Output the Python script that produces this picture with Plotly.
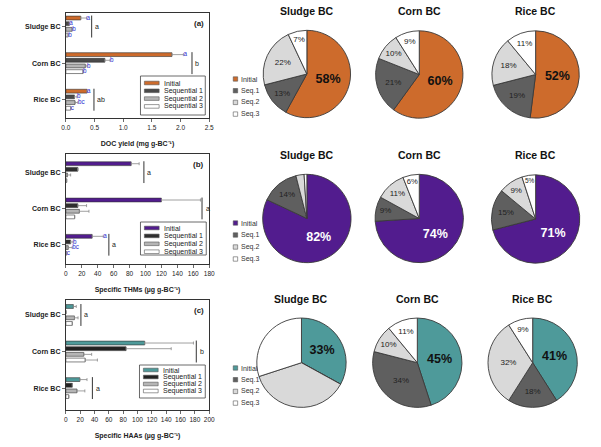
import plotly.graph_objects as go

W, H = 601, 447
FONT = "Liberation Sans, Arial, sans-serif"

# ---------------- data ----------------
categories = ["Sludge BC", "Corn BC", "Rice BC"]
series = ["Initial", "Sequential 1", "Sequential 2", "Sequential 3"]
pie_labels = ["Initial", "Seq.1", "Seq.2", "Seq.3"]

# (a) DOC yield (mg g-BC-1)
doc_initial = [0.26, 1.85, 0.37]
doc_seq1 = [0.06, 0.68, 0.15]
doc_seq2 = [0.11, 0.34, 0.16]
doc_seq3 = [0.04, 0.30, 0.085]
doc_err_initial = [0.10, 0.20, 0.0]
doc_err_seq1 = [0.0, 0.09, 0.045]
doc_err_seq2 = [0.0, 0.03, 0.05]
doc_err_seq3 = [0.0, 0.0, 0.0]
doc_letters_initial = ["a", "a", "a"]
doc_letters_seq1 = ["a", "b", "b"]
doc_letters_seq2 = ["b", "b", "bc"]
doc_letters_seq3 = ["b", "b", "c"]
doc_group_letters = ["a", "b", "ab"]
doc_group_x = [0.45, 2.20, 0.49]

# (b) Specific THMs (ug g-BC-1)
thm_initial = [82, 120, 33]
thm_seq1 = [15, 15, 6]
thm_seq2 = [2, 17, 3]
thm_seq3 = [1, 11, 1]
thm_err_initial = [10, 49, 14]
thm_err_seq1 = [0, 11, 3]
thm_err_seq2 = [4, 12, 5]
thm_err_seq3 = [0, 0, 0]
thm_letters_initial = ["", "", "a"]
thm_letters_seq1 = ["", "", "b"]
thm_letters_seq2 = ["", "", "bc"]
thm_letters_seq3 = ["", "", "c"]
thm_group_letters = ["a", "a", "a"]
thm_group_x = [98, 171, 54]

# (c) Specific HAAs (ug g-BC-1)
haa_initial = [10.5, 110, 19.5]
haa_seq1 = [0, 84, 9]
haa_seq2 = [12, 25, 15.5]
haa_seq3 = [9, 27, 4]
haa_err_initial = [4, 68, 10]
haa_err_seq1 = [0, 63, 0]
haa_err_seq2 = [5, 11, 11]
haa_err_seq3 = [0, 17, 0]
haa_group_letters = ["a", "b", "a"]
haa_group_x = [21, 182, 37]

# pie percentages [Initial, Seq.1, Seq.2, Seq.3]
doc_pct_sludge = [58, 13, 22, 7]
doc_pct_corn = [60, 21, 10, 9]
doc_pct_rice = [52, 19, 18, 11]
thm_pct_sludge = [82, 14, 3, 1]
thm_pct_corn = [74, 9, 11, 6]
thm_pct_rice = [71, 15, 9, 5]
haa_pct_sludge = [33, 0, 37, 30]
haa_pct_corn = [45, 34, 10, 11]
haa_pct_rice = [41, 18, 32, 9]
# which pie slices carry a label
thm_show_sludge = [True, True, False, False]
haa_show_sludge = [True, False, False, False]

# ---------------- styles ----------------
C_DOC = "#CD6B2C"
C_THM = "#521C8E"
C_HAA = "#4E9A9A"
BLUE = "#2B2BD0"

def px(x):
    return x / W

def py(y):
    return 1 - y / H

fig = go.Figure()
shapes = []
annotations = []

panels = [
    dict(key="", xr=[0, 2.5], dtick=0.5, fmt=".1f", box=(62, 13, 208, 118),
         yr=[2.5, -0.37], title="DOC yield (mg g-BC⁻¹)", tag="(a)",
         colors=[C_DOC, "#4A4A4A", "#B5B5B5", "#FFFFFF"],
         vals=[doc_initial, doc_seq1, doc_seq2, doc_seq3],
         errs=[doc_err_initial, doc_err_seq1, doc_err_seq2, doc_err_seq3],
         letters=[doc_letters_initial, doc_letters_seq1, doc_letters_seq2, doc_letters_seq3],
         glet=doc_group_letters, gx=doc_group_x,
         leg=(138, 76, 204, 115, 83, 7.8)),
    dict(key="2", xr=[0, 180], dtick=20, fmt="d", box=(62, 154, 208, 264),
         yr=[2.53, -0.5], title="Specific THMs (µg g-BC⁻¹)", tag="(b)",
         colors=[C_THM, "#2E2E2E", "#B5B5B5", "#FFFFFF"],
         vals=[thm_initial, thm_seq1, thm_seq2, thm_seq3],
         errs=[thm_err_initial, thm_err_seq1, thm_err_seq2, thm_err_seq3],
         letters=[thm_letters_initial, thm_letters_seq1, thm_letters_seq2, thm_letters_seq3],
         glet=thm_group_letters, gx=thm_group_x,
         leg=(138, 222, 205, 255, 228, 7.9)),
    dict(key="3", xr=[0, 200], dtick=20, fmt="d", box=(62, 300, 208, 410),
         yr=[2.6, -0.41], title="Specific HAAs (µg g-BC⁻¹)", tag="(c)",
         colors=[C_HAA, "#222222", "#B5B5B5", "#FFFFFF"],
         vals=[haa_initial, haa_seq1, haa_seq2, haa_seq3],
         errs=[haa_err_initial, haa_err_seq1, haa_err_seq2, haa_err_seq3],
         letters=None,
         glet=haa_group_letters, gx=haa_group_x,
         leg=(137, 365, 204, 398, 370, 7.0)),
]

OFF = 0.155
BW = 0.105
layout_axes = {}
for p in panels:
    k = p["key"]
    xa, ya = "x" + k, "y" + k
    x0, y0, x1, y1 = p["box"]
    for j, s in enumerate(series):
        ys = [i + (j - 1.5) * OFF for i in range(len(categories))]
        fig.add_trace(go.Bar(
            x=p["vals"][j], y=ys, orientation="h", width=BW, name=s,
            marker=dict(color=p["colors"][j], line=dict(color="#333333", width=0.6)),
            error_x=dict(type="data", array=p["errs"][j], symmetric=False,
                         arrayminus=[0] * len(categories), color="#888888",
                         thickness=0.8, width=1.5),
            xaxis=xa, yaxis=ya, showlegend=False, hoverinfo="skip"))
        if p["letters"] is not None:
            pts = [(v + e, yv, t) for v, e, yv, t in
                   zip(p["vals"][j], p["errs"][j], ys, p["letters"][j]) if t]
            if pts:
                fig.add_trace(go.Scatter(
                    x=[q[0] for q in pts], y=[q[1] for q in pts], mode="text",
                    text=[q[2] for q in pts], textposition="middle right",
                    textfont=dict(color=BLUE, size=6.3, family=FONT),
                    xaxis=xa, yaxis=ya, showlegend=False, hoverinfo="skip"))
    # group brackets
    for i, (gl, gx) in enumerate(zip(p["glet"], p["gx"])):
        shapes.append(dict(type="line", xref=xa, yref=ya, x0=gx, x1=gx,
                           y0=i - 0.3, y1=i + 0.3, line=dict(color="#333333", width=1)))
        annotations.append(dict(xref=xa, yref=ya, x=gx, y=i, text=gl, showarrow=False,
                                xanchor="left", xshift=1.5,
                                font=dict(size=7, color="#222222", family=FONT)))
    # panel tag
    annotations.append(dict(xref="paper", yref="paper", x=px(x1 - 3), y=py(y0 + 4),
                            xanchor="right", yanchor="top", text="<b>%s</b>" % p["tag"],
                            showarrow=False, font=dict(size=8, color="#222222", family=FONT)))
    # compact legend, as in the original figure
    lx0, ly0, lx1, ly1, ey, dy = p["leg"]
    shapes.append(dict(type="rect", xref="paper", yref="paper",
                       x0=px(lx0), x1=px(lx1), y0=py(ly1), y1=py(ly0),
                       line=dict(color="#444444", width=0.8), fillcolor="white"))
    for j, s in enumerate(series):
        yy = ey + j * dy
        shapes.append(dict(type="rect", xref="paper", yref="paper",
                           x0=px(lx0 + 4), x1=px(lx0 + 19), y0=py(yy + 1.8), y1=py(yy - 1.8),
                           line=dict(color="#555555", width=0.6), fillcolor=p["colors"][j]))
        annotations.append(dict(xref="paper", yref="paper", x=px(lx0 + 22), y=py(yy),
                                xanchor="left", yanchor="middle", text=s, showarrow=False,
                                font=dict(size=7, color="#222222", family=FONT)))
    layout_axes["xaxis" + k] = dict(
        domain=[px(x0), px(x1)], range=p["xr"], dtick=p["dtick"], tickformat=p["fmt"],
        anchor=ya, ticks="outside", ticklen=3, tickwidth=0.8, showline=True, mirror=True,
        linecolor="#333333", linewidth=1, showgrid=False, zeroline=False,
        tickfont=dict(size=6.5, color="#222222", family=FONT),
        title=dict(text="<b>%s</b>" % p["title"], standoff=11,
                   font=dict(size=7, color="#222222", family=FONT)))
    layout_axes["yaxis" + k] = dict(
        domain=[py(y1), py(y0)], range=p["yr"], anchor=xa,
        tickvals=list(range(len(categories))),
        ticktext=["<b>%s</b>" % c for c in categories],
        ticks="outside", ticklen=3, tickwidth=0.8, showline=True, mirror=True,
        linecolor="#333333", linewidth=1, showgrid=False, zeroline=False,
        tickfont=dict(size=7, color="#222222", family=FONT))

# ---------------- pies ----------------
pie_rows = [
    dict(pcts=[doc_pct_sludge, doc_pct_corn, doc_pct_rice],
         shows=[[True] * 4, [True] * 4, [True] * 4],
         init_color=C_DOC, init_text="#111111",
         centers=[(307.5, 74), (422, 74.5), (540.5, 74.5)], r=44.5, title_y=11,
         leg_y=79, leg_dy=11.7),
    dict(pcts=[thm_pct_sludge, thm_pct_corn, thm_pct_rice],
         shows=[thm_show_sludge, [True] * 4, [True] * 4],
         init_color=C_THM, init_text="#FFFFFF",
         centers=[(307.5, 218.5), (422, 218.5), (540.5, 219)], r=45, title_y=155,
         leg_y=223, leg_dy=12),
    dict(pcts=[haa_pct_sludge, haa_pct_corn, haa_pct_rice],
         shows=[haa_show_sludge, [True] * 4, [True] * 4],
         init_color=C_HAA, init_text="#111111",
         centers=[(302, 362.7), (420, 362.7), (537.5, 362.7)], r=45.5, title_y=298.5,
         leg_y=368, leg_dy=11.7),
]
for row in pie_rows:
    colors = [row["init_color"], "#5F5F5F", "#D9D9D9", "#FFFFFF"]
    for c, pct, show, (cx, cy) in zip(categories, row["pcts"], row["shows"], row["centers"]):
        r = row["r"]
        texts = []
        for n, v in enumerate(pct):
            texts.append(("<b>%d%%</b>" if n == 0 else "%d%%") % v)
        fig.add_trace(go.Pie(
            values=pct, labels=pie_labels, text=texts, textinfo="text",
            textposition=["inside" if s else "none" for s in show],
            insidetextorientation="horizontal",
            sort=False, direction="clockwise", rotation=0,
            marker=dict(colors=colors, line=dict(color="#3A3A3A", width=0.9)),
            insidetextfont=dict(size=[12.5, 8, 8, 8],
                                color=[row["init_text"], "#222222", "#222222", "#222222"],
                                family=FONT),
            domain=dict(x=[px(cx - r), px(cx + r)], y=[py(cy + r), py(cy - r)]),
            showlegend=False, hoverinfo="skip"))
        annotations.append(dict(xref="paper", yref="paper", x=px(cx), y=py(row["title_y"]),
                                xanchor="center", yanchor="middle", text="<b>%s</b>" % c,
                                showarrow=False, font=dict(size=10.5, color="#111111", family=FONT)))
    for j, lab in enumerate(pie_labels):
        yy = row["leg_y"] + j * row["leg_dy"]
        shapes.append(dict(type="rect", xref="paper", yref="paper",
                           x0=px(232.5), x1=px(237), y0=py(yy + 2.2), y1=py(yy - 2.2),
                           line=dict(color="#555555", width=0.6), fillcolor=colors[j]))
        annotations.append(dict(xref="paper", yref="paper", x=px(238), y=py(yy),
                                xanchor="left", yanchor="middle", text=lab, showarrow=False,
                                font=dict(size=7, color="#333333", family=FONT)))

fig.update_layout(
    width=W, height=H, margin=dict(l=0, r=0, t=0, b=0),
    paper_bgcolor="white", plot_bgcolor="white",
    font=dict(family=FONT, color="#222222"),
    barmode="overlay", showlegend=False, hovermode=False,
    shapes=shapes, annotations=annotations, **layout_axes)

fig.write_html("out.html", config={"displayModeBar": False, "staticPlot": True},
               post_script="document.body.style.margin='0';")
